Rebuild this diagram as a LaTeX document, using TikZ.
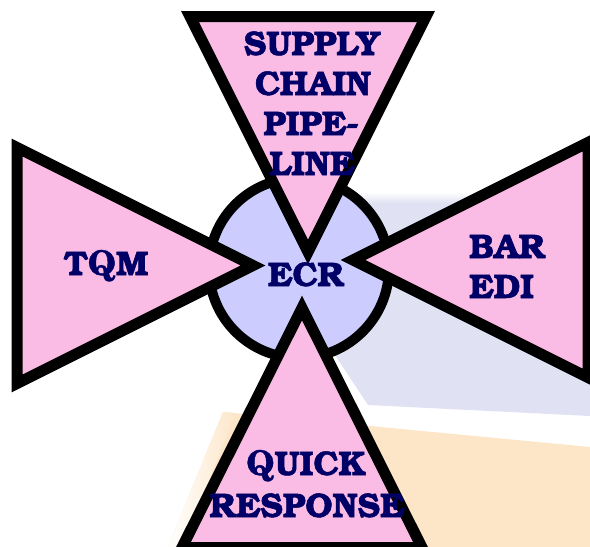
\documentclass[tikz,border=0pt]{standalone}
\usepackage{fontspec}
\newfontfamily\bookfont{TeX Gyre Bonum}[BoldFeatures={FakeBold=1.6}]
\newfontfamily\tailfont{TeX Gyre Schola}[BoldFeatures={FakeBold=1.2}]
\usetikzlibrary{calc}

\definecolor{petalpink}{RGB}{250,188,228}
\definecolor{hubblue}{RGB}{204,204,255}
\definecolor{inknavy}{RGB}{0,0,102}
\definecolor{hazeband}{RGB}{224,225,243}
\definecolor{peachband}{RGB}{253,230,200}

\newcommand\petalfont{\bookfont\fontsize{34}{40}\selectfont\bfseries}
% a Q with an ordinary attached tail
\newcommand\Qtail{{\tailfont\bfseries Q}}

\tikzset{
  petal/.style={fill=petalpink, draw=black, line width=11pt, line join=miter},
  hub/.style={fill=hubblue, draw=black, line width=10pt},
  word/.style={font=\petalfont, text=inknavy, inner sep=0pt, anchor=base},
  wordleft/.style={word, anchor=base west},
}

\begin{document}
\begin{tikzpicture}[x=1pt,y=-1pt]
  \useasboundingbox (0,0) rectangle (590,547);
  \fill[white] (0,0) rectangle (590,547);

  % soft background bands
  \fill[hazeband] (320,202) -- (590,202) -- (590,416) -- (368,405)
                  -- (333,352) -- (300,300) -- cycle;
  \shade[top color=white, bottom color=hazeband]
        (320,192) rectangle (590,203);
  \fill[peachband] (223,412) -- (590,447) -- (590,547) -- (168,547) -- cycle;
  \shade[left color=white, right color=peachband]
        (223,412) -- (236,413) -- (182,547) -- (168,547) -- cycle;

  % central hub
  \coordinate (hubc) at (299,268);
  \draw[hub] (hubc) circle[radius=90];

  % four petals around the hub
  \coordinate (tipN) at (308,252);
  \coordinate (tipW) at (253,265.5);
  \coordinate (tipE) at (353,260);
  \coordinate (tipS) at (302,308);
  \draw[petal] (190,16.5) -- (426,16.5) -- (tipN) -- cycle;
  \draw[petal] (17,147.5) -- (17,383.5) -- (tipW) -- cycle;
  \draw[petal] (588,142.5) -- (588,377.5) -- (tipE) -- cycle;
  \draw[petal] (182,547.5) -- (422,547.5) -- (tipS) -- cycle;

  % labels
  \node[word] (sc1) at (312,55)  {SUPPLY};
  \node[word] (sc2) at (313,95)  {CHAIN};
  \node[word] (sc3) at (311,135) {PIPE-};
  \node[word] (sc4) at (312,175) {LINE};
  \node[word] (tqm) at (106,275) {T\Qtail M};
  \node[word] (ecr) at (306,286) {ECR};
  \node[wordleft] (bar) at (469,258) {BAR};
  \node[wordleft] (edi) at (469,298) {EDI};
  \node[word] (qr1) at (306,475) {\Qtail UICK};
  \node[word] (qr2) at (307,517) {RESPONSE};
\end{tikzpicture}
\end{document}
